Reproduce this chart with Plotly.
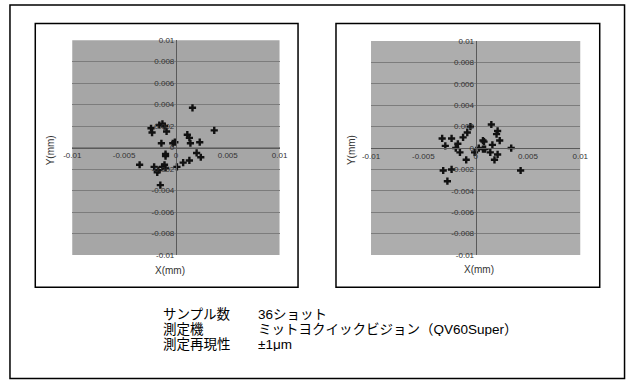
import plotly.graph_objects as go

W, H = 634, 385

# ---- data (mm) ----
left_x = [0.0016, 0.0037, -0.0024, -0.0023, -0.0016, -0.0013, -0.0011, -0.0009, -0.0014, -0.0003,
          -0.0001, 0.0011, 0.0013, 0.0014, 0.0023, 0.0020, 0.0024, 0.0013, 0.0007, 0.0001,
          -0.0010, -0.0010, -0.0035, -0.0021, -0.0018, -0.0013, -0.0010, -0.0011, -0.0015, -0.0017]
left_y = [0.0037, 0.0016, 0.0018, 0.0014, 0.0021, 0.0022, 0.0020, 0.0015, 0.0004, 0.0004,
          0.0005, 0.0012, 0.0009, 0.0004, 0.0005, -0.0005, -0.0009, -0.0012, -0.0014, -0.0018,
          -0.0008, -0.0006, -0.0016, -0.0018, -0.0023, -0.0018, -0.0019, -0.0016, -0.0035, -0.0021]

right_x = [-0.0005, -0.0008, 0.0015, 0.0021, 0.0020, 0.0023, -0.0032, -0.0023, -0.0029, -0.0012,
           -0.0017, -0.0019, -0.0015, -0.0009, -0.0001, 0.0003, 0.0007, 0.0008, 0.0007, 0.0009,
           0.0016, 0.0014, 0.0021, 0.0018, 0.0034, 0.0043, -0.0031, -0.0023, -0.0027]
right_y = [0.0020, 0.00145, 0.0022, 0.0016, 0.0013, 0.0007, 0.0009, 0.0009, 0.0002, 0.0010,
           0.0004, 0.0000, -0.0004, -0.0011, -0.0004, 0.0000, 0.0007, 0.0006, -0.0001, -0.0001,
           0.0003, -0.0004, -0.0006, -0.0011, 0.0000, -0.0021, -0.0021, -0.0020, -0.0031]

x_tickvals = [-0.01, -0.005, 0, 0.005, 0.01]
x_ticktext = ["-0.01", "-0.005", "0", "0.005", "0.01"]
y_tickvals = [0.01, 0.008, 0.006, 0.004, 0.002, 0, -0.002, -0.004, -0.006, -0.008, -0.01]
y_ticktext = ["0.01", "0.008", "0.006", "0.004", "0.002", "0", "-0.002", "-0.004", "-0.006", "-0.008", "-0.01"]

info_labels = ["サンプル数", "測定機", "測定再現性"]
info_values = ["36ショット", "ミットヨクイックビジョン（QV60Super）", "±1μm"]

# ---- geometry helpers ----
def px(x):
    return x / W

def py(y):
    return 1 - y / H

panels = [
    dict(x0=65, x1=278, y0=37, y1=257, bg="#a6a6a6"),
    dict(x0=372, x1=587, y0=38, y1=257, bg="#adadad"),
]

fig = go.Figure()
fig.add_trace(go.Scatter(x=left_x, y=left_y, mode="markers", xaxis="x", yaxis="y",
                         marker=dict(symbol="cross", size=6, color="#111111"), showlegend=False))
fig.add_trace(go.Scatter(x=right_x, y=right_y, mode="markers", xaxis="x2", yaxis="y2",
                         marker=dict(symbol="cross", size=6, color="#111111"), showlegend=False))

tick_font = dict(family="Liberation Sans, Arial, sans-serif", size=8, color="#333333")
layout = dict(width=W, height=H, margin=dict(l=0, r=0, t=0, b=0), hovermode=False,
              paper_bgcolor="white", plot_bgcolor="rgba(0,0,0,0)", showlegend=False)

shapes = []
for i, p in enumerate(panels):
    sx = "" if i == 0 else "2"
    xd = [px(p["x0"]), px(p["x1"])]
    yd = [py(p["y1"]), py(p["y0"])]
    ymid = (py(p["y0"]) + py(p["y1"])) / 2
    xmid = (xd[0] + xd[1]) / 2
    layout["xaxis" + sx] = dict(domain=xd, range=[-0.01, 0.01], anchor="free", position=ymid,
                                showgrid=False, zeroline=False, showline=True, linecolor="#5a5a5a",
                                linewidth=1, tickvals=x_tickvals, ticktext=x_ticktext,
                                tickfont=tick_font, ticks="", fixedrange=True)
    layout["yaxis" + sx] = dict(domain=yd, range=[-0.01, 0.01], anchor="free", position=xmid,
                                showgrid=True, gridcolor="#7c7c7c", gridwidth=1, zeroline=False,
                                showline=True, linecolor="#5a5a5a", linewidth=1,
                                tickvals=y_tickvals, ticktext=y_ticktext,
                                tickfont=tick_font, ticks="", fixedrange=True)
    shapes.append(dict(type="rect", xref="paper", yref="paper", x0=xd[0], x1=xd[1], y0=yd[0], y1=yd[1],
                       fillcolor=p["bg"], line=dict(width=0), layer="below"))

# frames
shapes.append(dict(type="rect", xref="paper", yref="paper", x0=px(27), x1=px(297), y0=py(290), y1=py(20),
                   line=dict(color="black", width=1.5), fillcolor="rgba(0,0,0,0)"))
shapes.append(dict(type="rect", xref="paper", yref="paper", x0=px(336), x1=px(607), y0=py(290), y1=py(20),
                   line=dict(color="black", width=1.5), fillcolor="rgba(0,0,0,0)"))
shapes.append(dict(type="rect", xref="paper", yref="paper", x0=px(1), x1=px(632.5), y0=py(383.5), y1=py(1),
                   line=dict(color="black", width=1.5), fillcolor="rgba(0,0,0,0)"))
layout["shapes"] = shapes

title_font = dict(family="Liberation Sans, Arial, sans-serif", size=10, color="#333333")
ann = [
    dict(text="Y(mm)", x=px(43), y=py(150), xref="paper", yref="paper", showarrow=False,
         textangle=-90, font=title_font, xanchor="center", yanchor="middle"),
    dict(text="Y(mm)", x=px(352), y=py(150), xref="paper", yref="paper", showarrow=False,
         textangle=-90, font=title_font, xanchor="center", yanchor="middle"),
    dict(text="X(mm)", x=px(165), y=py(273), xref="paper", yref="paper", showarrow=False,
         font=title_font, xanchor="center", yanchor="middle"),
    dict(text="X(mm)", x=px(483), y=py(272), xref="paper", yref="paper", showarrow=False,
         font=title_font, xanchor="center", yanchor="middle"),
]
info_font = dict(family="Liberation Sans, Noto Sans CJK JP, sans-serif", size=13.5, color="black")
rows_y = [317, 332.5, 348]
for lab, val, yy in zip(info_labels, info_values, rows_y):
    ann.append(dict(text=lab, x=px(157), y=py(yy), xref="paper", yref="paper", showarrow=False,
                    font=info_font, xanchor="left", yanchor="middle", height=14, borderpad=0))
    ann.append(dict(text=val, x=px(255), y=py(yy), xref="paper", yref="paper", showarrow=False,
                    font=info_font, xanchor="left", yanchor="middle", height=14, borderpad=0))
layout["annotations"] = ann

fig.update_layout(**layout)
fig.write_html("out.html", config={"displayModeBar": False},
               post_script="document.body.style.margin='0';document.body.style.overflow='hidden';")
